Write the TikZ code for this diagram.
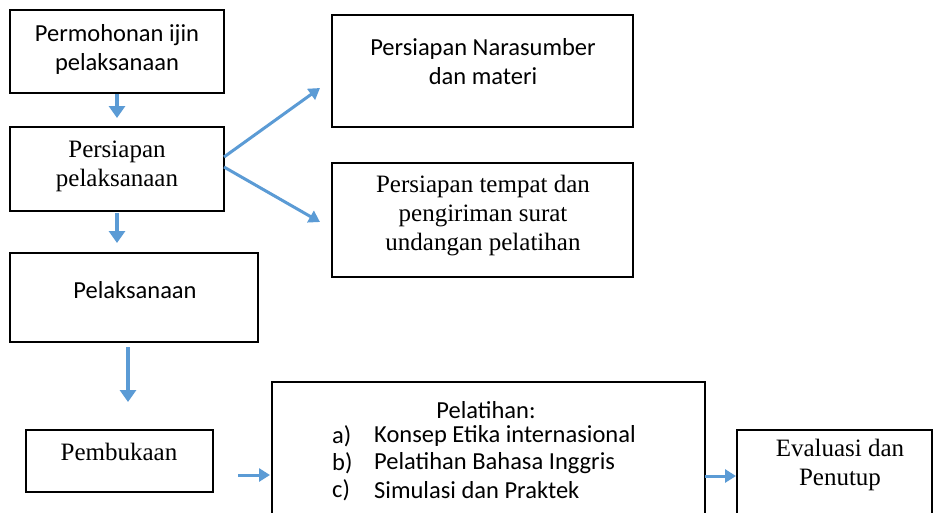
\documentclass[tikz,border=0pt]{standalone}
\usepackage{fontspec}
\setmainfont{Liberation Serif}
\newfontfamily\calib{Carlito}
\usetikzlibrary{arrows.meta,calc}
\definecolor{arrblue}{HTML}{5B9BD5}
\begin{document}
\begin{tikzpicture}[x=1pt,y=-1pt,
  box/.style={draw=black,line width=2pt,rectangle,anchor=north west,inner sep=0pt,outer sep=0pt},
  sanstxt/.style={font=\calib\fontsize{24.5}{29}\selectfont,align=center,inner sep=0pt},
  seriftxt/.style={font=\fontsize{25}{29}\selectfont,align=center,inner sep=0pt},
  listtxt/.style={font=\calib\fontsize{24.5}{27}\selectfont,anchor=west,inner sep=0pt},
  arr/.style={draw=arrblue,line width=3.5pt,-{Triangle[width=16pt,length=12pt]}},
  arrthin/.style={draw=arrblue,line width=3pt,-{Triangle[width=13pt,length=11pt]}},
]
\useasboundingbox (0,0) rectangle (934,512);
\clip (0,0) rectangle (934,512);
\fill[white] (0,0) rectangle (934,512);

% boxes
\node[box,minimum width=214pt,minimum height=83pt] (b1) at (10,10) {};
\node[box,minimum width=214pt,minimum height=84pt] (b2) at (10,127) {};
\node[box,minimum width=248pt,minimum height=89pt] (b3) at (10,253) {};
\node[box,minimum width=187pt,minimum height=62pt] (pemb) at (26,430) {};
\node[box,minimum width=433pt,minimum height=150pt] (pel) at (272,382) {};
\node[box,minimum width=195pt,minimum height=100pt] (eval) at (737,430) {};
\node[box,minimum width=301pt,minimum height=112pt] (nara) at (332,15) {};
\node[box,minimum width=301pt,minimum height=114pt] (tempat) at (332,163) {};

% texts
\node[sanstxt] (t1) at (117,49) {Permohonan ijin\\pelaksanaan};
\node[seriftxt] (t2) at (117,166) {Persiapan\\pelaksanaan};
\node[sanstxt] (t3) at (135,290) {Pelaksanaan};
\node[sanstxt] (tn) at (483,62) {Persiapan Narasumber\\dan materi};
\node[seriftxt] (tt) at (483,216) {Persiapan tempat dan\\pengiriman surat\\undangan pelatihan};
\node[seriftxt] (tp) at (119,452) {Pembukaan};
\node[sanstxt] (tl) at (486,410) {Pelatihan:};
\node[listtxt] (la) at (332,436) {a)};
\node[listtxt] (ia) at (374,436) {Konsep Etika internasional};
\node[listtxt] (lb) at (332,463) {b)};
\node[listtxt] (ib) at (374,463) {Pelatihan Bahasa Inggris};
\node[listtxt] (lc) at (332,490) {c)};
\node[listtxt] (ic) at (374,490) {Simulasi dan Praktek};
\node[seriftxt] (te) at (840,465) {Evaluasi dan\\Penutup};

% arrows
\draw[arr,shorten <=1pt,shorten >=9pt] (b1.south) -- (b2.north);
\draw[arr,shorten <=2pt,shorten >=10pt] (b2.south) -- (b2.south |- b3.north);
\coordinate (a3) at ($(b3.south)+(-6,0)$);
\draw[arr,shorten <=5pt,shorten >=28pt] (a3) -- (a3 |- pemb.north);
\coordinate (a4) at ($(pemb.east)+(0,14)$);
\draw[arrthin,shorten <=25pt,shorten >=2pt] (a4) -- (a4 -| pel.west);
\coordinate (a5) at (0,476);
\draw[arrthin,shorten >=1pt] (pel.east |- a5) -- (eval.west |- a5);
\draw[arrthin] ($(b2.east)+(0,-12)$) -- ($(nara.west)+(-12,17)$);
\draw[arrthin] ($(b2.east)+(0,-2)$) -- ($(tempat.west)+(-12,2)$);
\end{tikzpicture}
\end{document}
